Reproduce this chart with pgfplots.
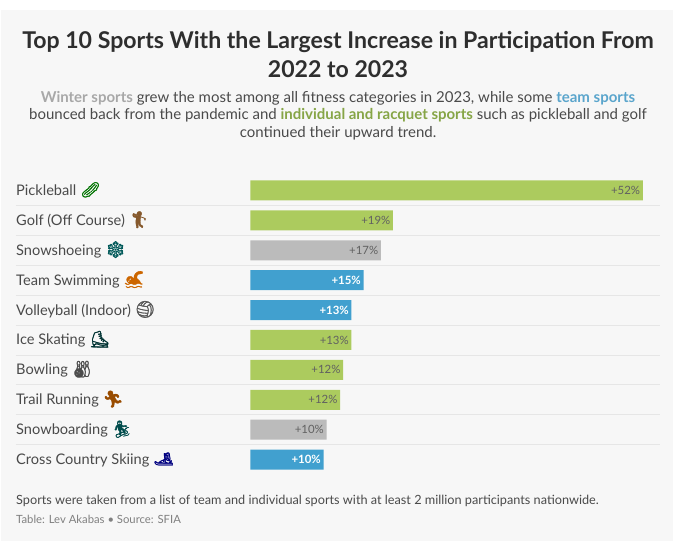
\documentclass[border=0pt]{standalone}
\usepackage{fontspec}
\usepackage{pgfplots}
\pgfplotsset{compat=1.18}
\setmainfont{Lato}
\newfontfamily\emoji[FakeBold=1.6]{Noto Emoji}

\definecolor{panel}{HTML}{F7F7F7}
\definecolor{titlecol}{HTML}{2E2E2E}
\definecolor{bodycol}{HTML}{4A4A4A}
\definecolor{sepcol}{HTML}{E6E6E6}
\definecolor{indiv}{HTML}{ACCB5E}
\definecolor{winter}{HTML}{BBBBBB}
\definecolor{team}{HTML}{41A0CF}
\definecolor{indivtxt}{HTML}{86A546}
\definecolor{teamtxt}{HTML}{5AA5CC}
\definecolor{wintertxt}{HTML}{A8A8A8}

% row label: name followed by its emoji
\newcommand{\lab}[3]{\fontsize{14.6}{16}\selectfont #1 {\fontsize{16.5}{16}\selectfont\emoji\color{#3}#2}}

\begin{document}
\begin{tikzpicture}[x=1pt,y=1pt]
    \path (0,0) rectangle (680,547);
    \fill[panel] (1,6.5) rectangle (673,537);

    \node[text=titlecol,font=\fontsize{23.1}{26}\selectfont\bfseries] at (338,505.5) {Top 10 Sports With the Largest Increase in Participation From};
    \node[text=titlecol,font=\fontsize{23.1}{26}\selectfont\bfseries] at (338,478) {2022 to 2023};

    \begin{scope}[font=\fontsize{15}{16}\selectfont,text=bodycol]
        \node at (338,449) {\textcolor{wintertxt}{\textbf{Winter sports}} grew the most among all fitness categories in 2023, while some \textcolor{teamtxt}{\textbf{team sports}}};
        \node at (338,432) {bounced back from the pandemic and \textcolor{indivtxt}{\textbf{individual and racquet sports}} such as pickleball and golf};
        \node at (338,414) {continued their upward trend.};
    \end{scope}

    \begin{axis}[
        at={(16pt,72.5pt)},
        anchor=south west,
        scale only axis,
        width=644pt,
        height=299pt,
        xbar,
        bar width=20pt,
        bar shift=0pt,
        xmin=-31.04,
        xmax=54.28,
        ymin=-0.5,
        ymax=9.5,
        y dir=reverse,
        clip=false,
        axis line style={draw=none},
        major tick length=0pt,
        minor tick length=0pt,
        xtick=\empty,
        ytick={0,1,2,3,4,5,6,7,8,9},
        yticklabels={
            {\lab{Pickleball}{🥒}{green!45!black}},
            {\lab{Golf (Off Course)}{🏌}{brown!70!black}},
            {\lab{Snowshoeing}{❄}{teal!70!black}},
            {\lab{Team Swimming}{🏊}{orange!80!black}},
            {\lab{Volleyball (Indoor)}{🏐}{black!65}},
            {\lab{Ice Skating}{⛸}{teal!40!black}},
            {\lab{Bowling}{🎳}{black!70}},
            {\lab{Trail Running}{🏃}{orange!60!black}},
            {\lab{Snowboarding}{🏂}{teal!60!black}},
            {\lab{Cross Country Skiing}{🎿}{blue!50!black}}
        },
        y tick label style={anchor=base west,inner sep=0pt,text=bodycol,yshift=-5pt},
        minor ytick={0.5,1.5,2.5,3.5,4.5,5.5,6.5,7.5,8.5},
        yminorgrids=true,
        minor y grid style={sepcol,line width=0.8pt},
        point meta=explicit symbolic,
        nodes near coords,
        every node near coord/.append style={anchor=east,inner xsep=2.5pt,font=\fontsize{11.4}{14}\selectfont},
    ]
        % individual and racquet sports
        \addplot[fill=indiv,draw=none,every node near coord/.append style={text=black!62}]
            coordinates {
                (52,0) [+52\%]
                (18.9,1) [+19\%]
                (13.4,5) [+13\%]
                (12.3,6) [+12\%]
                (11.9,7) [+12\%]
        };
        % winter sports
        \addplot[fill=winter,draw=none,every node near coord/.append style={text=black!62}]
            coordinates {
                (17.3,2) [+17\%]
                (10.1,8) [+10\%]
        };
        % team sports
        \addplot[fill=team,draw=none,every node near coord/.append style={text=white,font=\fontsize{11.4}{14}\selectfont\bfseries}]
            coordinates {
                (15,3) [+15\%]
                (13.4,4) [+13\%]
                (9.7,9) [+10\%]
        };
    \end{axis}

    \node[anchor=west,inner sep=0pt,text=bodycol,font=\fontsize{12.7}{14}\selectfont] at (16,46.5) {Sports were taken from a list of team and individual sports with at least 2 million participants nationwide.};
    \node[anchor=west,inner sep=0pt,text=black!50,font=\fontsize{11.3}{13}\selectfont] at (16,28) {Table: Lev Akabas • Source: SFIA};
\end{tikzpicture}
\end{document}
